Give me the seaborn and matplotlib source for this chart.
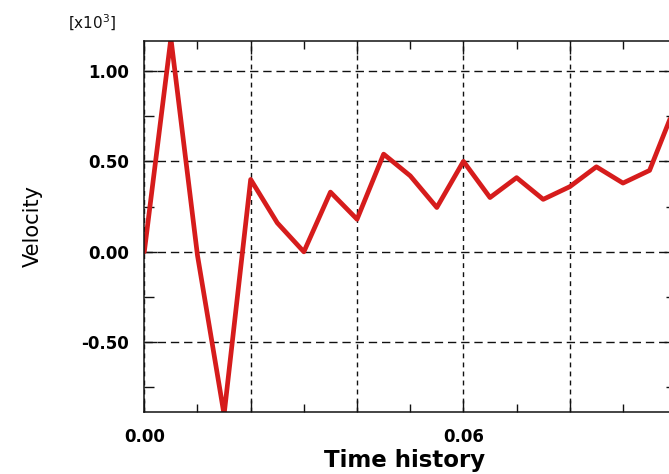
import matplotlib
matplotlib.use("Agg")
import matplotlib.pyplot as plt
from matplotlib.ticker import MultipleLocator, FuncFormatter
import seaborn as sns
import pandas as pd

# -------------------------------
# Data (velocity in units of 10^3)
# -------------------------------
time = [0.000, 0.005, 0.010, 0.015, 0.020, 0.025, 0.030, 0.035, 0.040, 0.045,
        0.050, 0.055, 0.060, 0.065, 0.070, 0.075, 0.080, 0.085, 0.090, 0.095, 0.100]
velocity = [0.00, 1.18, -0.02, -0.90, 0.40, 0.16, 0.00, 0.33, 0.18, 0.54,
            0.42, 0.245, 0.50, 0.30, 0.41, 0.29, 0.36, 0.47, 0.38, 0.45, 0.82]

x_label_ticks = [0.00, 0.06]
y_label_ticks = [-0.50, 0.00, 0.50, 1.00]

df = pd.DataFrame({"Time history": time, "Velocity": velocity})

# -------------------------------
# Style
# -------------------------------
sns.set_theme(style="ticks")
plt.rcParams["font.family"] = ["DejaVu Sans"]
plt.rcParams["axes.unicode_minus"] = False
plt.rcParams["lines.scale_dashes"] = False

fig = plt.figure(figsize=(6.69, 4.74), dpi=100)
ax = fig.add_axes([0.2157, 0.1314, 0.7950, 0.7827])

sns.lineplot(data=df, x="Time history", y="Velocity", ax=ax,
             color="#d61c1c", linewidth=3.4, sort=False, estimator=None)

ax.set_xlim(0, 0.1)
ax.set_ylim(-0.884, 1.167)

# ticks
ax.xaxis.set_major_locator(MultipleLocator(0.02))
ax.xaxis.set_minor_locator(MultipleLocator(0.01))
ax.yaxis.set_major_locator(MultipleLocator(0.5))
ax.yaxis.set_minor_locator(MultipleLocator(0.25))


def x_fmt(v, pos):
    for t in x_label_ticks:
        if abs(v - t) < 1e-9:
            return f"{t:.2f}"
    return ""


def y_fmt(v, pos):
    for t in y_label_ticks:
        if abs(v - t) < 1e-9:
            return f"{t:.2f}"
    return ""


ax.xaxis.set_major_formatter(FuncFormatter(x_fmt))
ax.yaxis.set_major_formatter(FuncFormatter(y_fmt))

ax.tick_params(which="both", direction="in", top=True, right=True,
               colors="#111111", width=1.0)
ax.tick_params(axis="x", which="major", length=9, pad=12)
ax.tick_params(axis="x", which="minor", length=6)
ax.tick_params(axis="y", which="major", length=9, pad=11)
ax.tick_params(axis="y", which="minor", length=7)

for lab in ax.get_xticklabels() + ax.get_yticklabels():
    lab.set_fontsize(12)
    lab.set_fontweight("bold")
    lab.set_color("black")

# grid
ax.xaxis.grid(True, color="#111111", linewidth=1.0, linestyle=(0, (3.5, 3)))
ax.yaxis.grid(True, color="#111111", linewidth=1.0, linestyle=(0, (6, 3.5)))
ax.set_axisbelow(True)

for side in ax.spines.values():
    side.set_linewidth(1.1)
    side.set_color("#111111")

# labels
ax.set_xlabel("Time history", fontsize=16.5, fontweight="bold", color="black")
ax.xaxis.label.set_va("top")
ax.xaxis.set_label_coords(0.49, -0.100)

ax.set_ylabel("Velocity", fontsize=15, color="black")
ax.yaxis.set_label_coords(-0.19, 0.5)

fig.text(92 / 669, 1 - 23 / 474, "[x10$^{3}$]", fontsize=11,
         ha="center", va="center", color="#111111")

plt.savefig("out.png", dpi=100)
